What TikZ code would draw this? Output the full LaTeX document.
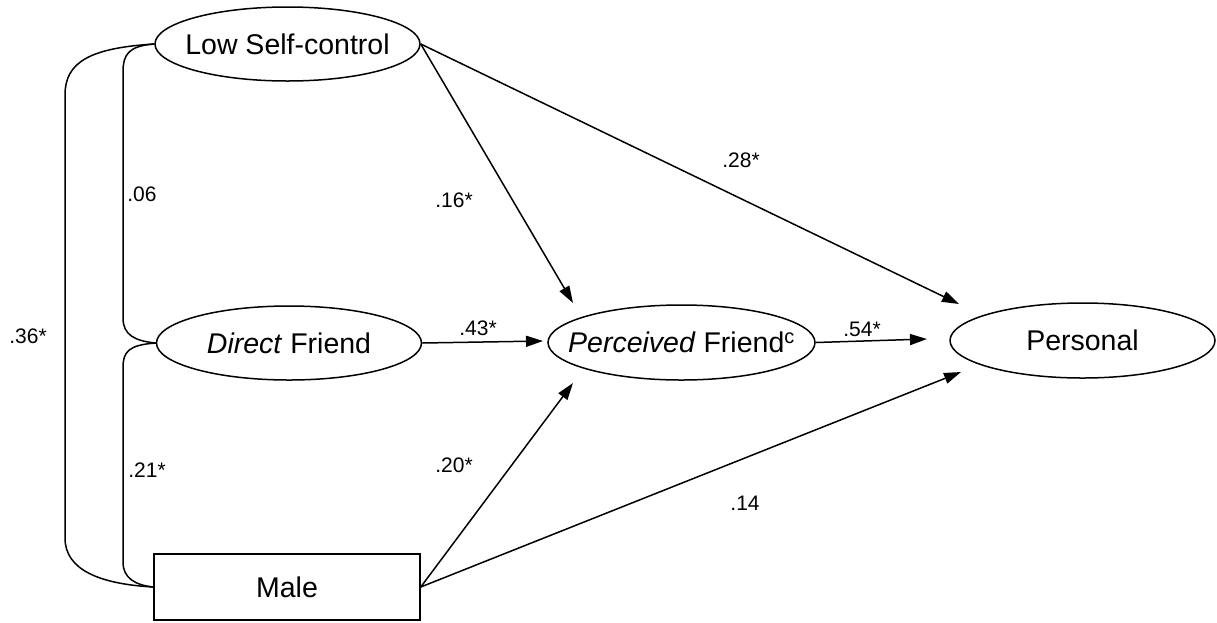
\documentclass[tikz,border=0pt]{standalone}
\usepackage{fontspec}
\setmainfont{Liberation Sans}
\usetikzlibrary{shapes.geometric,arrows.meta}
\begin{document}
\begin{tikzpicture}[x=1pt,y=-1pt,
  every path/.style={line width=1.5pt},
  var/.style={draw,ellipse,inner sep=0pt,font=\fontsize{28.5}{32}\selectfont},
  obs/.style={draw,rectangle,inner sep=0pt,minimum width=266pt,minimum height=66pt,font=\fontsize{28.5}{32}\selectfont},
  coef/.style={inner sep=0pt,font=\fontsize{21}{23}\selectfont},
  path arrow/.style={-{Triangle[length=17pt,width=11pt]}}
]
\useasboundingbox (0,0) rectangle (1217,622);
\node[var,minimum width=265pt,minimum height=74pt] (lsc) at (287.5,44) {\makebox[0pt][c]{Low Self-control}};
\node[var,minimum width=265pt,minimum height=74pt] (df) at (289,343) {\makebox[0pt][c]{\textit{Direct} Friend}};
\node[obs] (male) at (287,587) {Male};
\node[var,minimum width=267pt,minimum height=75pt] (pf) at (681.5,342.5) {\makebox[0pt][c]{\textit{Perceived} Friend\textsuperscript{c}}};
\node[var,minimum width=265pt,minimum height=75pt] (pers) at (1082.5,340.5) {\makebox[0pt][c]{Personal}};

\coordinate (tLP) at (573,303);
\coordinate (tMP) at (573,383);
\coordinate (tDP) at (543,341);
\coordinate (tPP) at (927,339);
\coordinate (tLR) at (959,304);
\coordinate (tMR) at (961,372);

\draw[path arrow] (lsc.east) -- (tLP);
\draw[path arrow] (male.east) -- (tMP);
\draw[path arrow] (df.east) -- (tDP);
\draw[path arrow] (pf.east) -- (tPP);
\draw[path arrow] (lsc.east) -- (tLR);
\draw[path arrow] (male.east) -- (tMR);

% covariances
\draw (lsc.west) .. controls (128,46) and (123,55) .. (123,72) -- (123,318) .. controls (123,335) and (135,341) .. (df.west);
\draw (df.west) .. controls (128,345) and (123,352) .. (123,368) -- (123,562) .. controls (123,578) and (135,585) .. (male.west);
\draw (lsc.west) .. controls (90,48) and (65,62) .. (65,95) -- (65,538) .. controls (65,570) and (100,584) .. (male.west);

\node[coef] (c06) at (142,194) {.06};
\node[coef] (c36) at (28,336) {.36*};
\node[coef] (c21) at (147,470) {.21*};
\node[coef] (c16) at (454,200) {.16*};
\node[coef] (c28) at (741,160) {.28*};
\node[coef] (c43) at (478,328) {.43*};
\node[coef] (c20) at (454,465) {.20*};
\node[coef] (c14) at (745,503) {.14};
\node[coef] (c54) at (862,329) {.54*};
\end{tikzpicture}
\end{document}
